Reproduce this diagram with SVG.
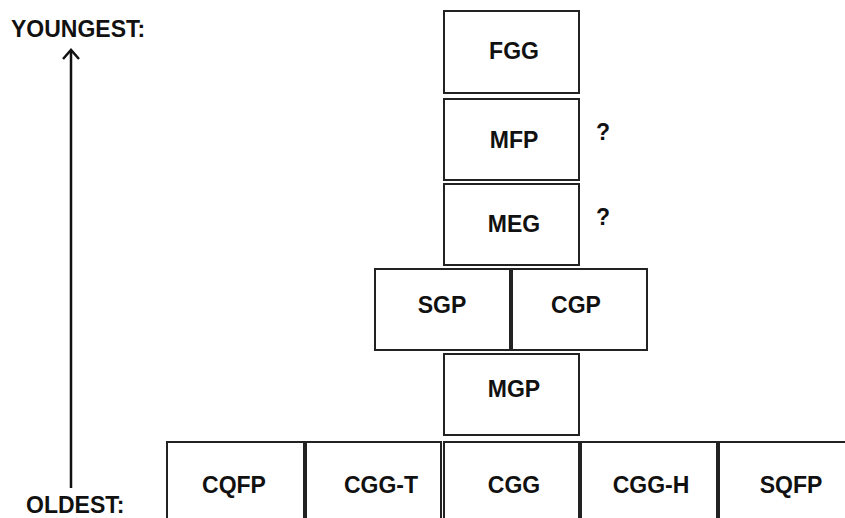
<svg xmlns="http://www.w3.org/2000/svg" width="845" height="518" viewBox="0 0 845 518">
  <style>
    .box { fill: #ffffff; stroke: #222222; stroke-width: 2; }
    .lbl { font-family: "Liberation Sans", Arial, sans-serif; font-weight: bold; font-size: 23px; fill: #111111; text-anchor: middle; }
    .axis { font-family: "Liberation Sans", Arial, sans-serif; font-weight: bold; font-size: 23px; fill: #111111; }
    .line { fill: none; stroke: #111111; stroke-width: 2.5; }
  </style>
  <rect width="845" height="518" fill="#ffffff"/>

  <!-- age axis -->
  <g id="axis">
    <text class="axis" x="11" y="37">YOUNGEST:</text>
    <text class="axis" x="26" y="513">OLDEST:</text>
  </g>
  <g id="connectors">
    <path class="line" d="M71 488 V50"/>
    <path class="line" d="M63 59 L71 50 L79 59"/>
  </g>

  <g id="FGG">
    <rect class="box" x="444" y="11" width="135" height="82"/>
    <text class="lbl" x="514" y="59">FGG</text>
  </g>
  <g id="MFP">
    <rect class="box" x="444" y="99" width="135" height="81"/>
    <text class="lbl" x="514" y="148">MFP</text>
    <text class="lbl" x="603" y="140">?</text>
  </g>
  <g id="MEG">
    <rect class="box" x="444" y="184" width="135" height="81"/>
    <text class="lbl" x="514" y="232">MEG</text>
    <text class="lbl" x="603" y="225">?</text>
  </g>
  <g id="SGP">
    <rect class="box" x="375" y="269" width="135" height="81"/>
    <text class="lbl" x="442" y="313">SGP</text>
  </g>
  <g id="CGP">
    <rect class="box" x="512" y="269" width="135" height="81"/>
    <text class="lbl" x="576" y="313">CGP</text>
  </g>
  <g id="MGP">
    <rect class="box" x="444" y="354" width="135" height="81"/>
    <text class="lbl" x="514" y="397">MGP</text>
  </g>

  <g id="CQFP">
    <rect class="box" x="167" y="442" width="137" height="90"/>
    <text class="lbl" x="234" y="493">CQFP</text>
  </g>
  <g id="CGG-T">
    <rect class="box" x="306" y="442" width="135" height="90"/>
    <text class="lbl" x="381" y="493">CGG-T</text>
  </g>
  <g id="CGG">
    <rect class="box" x="444" y="442" width="135" height="90"/>
    <text class="lbl" x="514" y="493">CGG</text>
  </g>
  <g id="CGG-H">
    <rect class="box" x="581" y="442" width="136" height="90"/>
    <text class="lbl" x="651" y="493">CGG-H</text>
  </g>
  <g id="SQFP">
    <rect class="box" x="719" y="442" width="140" height="90"/>
    <text class="lbl" x="791" y="493">SQFP</text>
  </g>
</svg>
